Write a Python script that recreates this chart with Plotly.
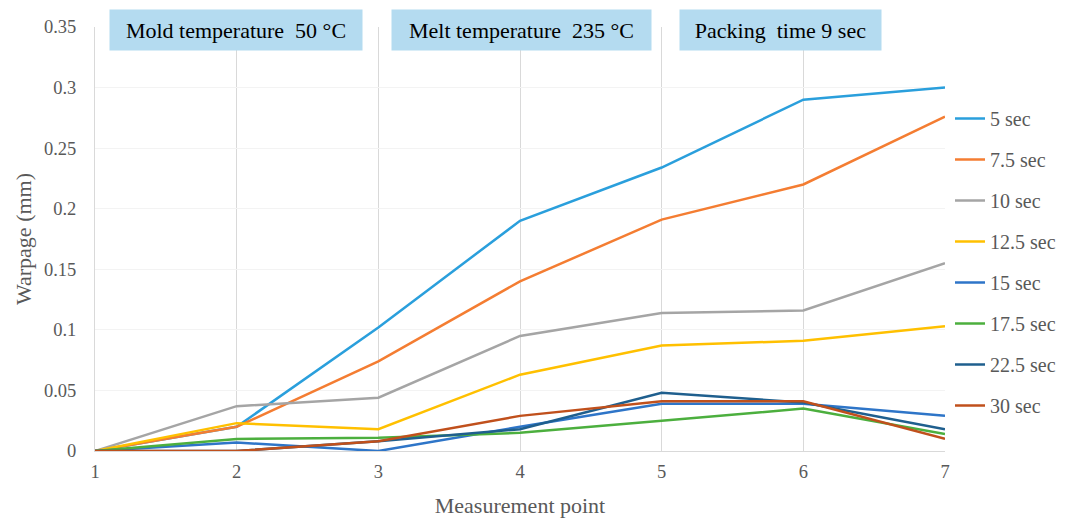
import plotly.graph_objects as go

points = [1, 2, 3, 4, 5, 6, 7]
series_names = ["5 sec", "7.5 sec", "10 sec", "12.5 sec", "15 sec", "17.5 sec", "22.5 sec", "30 sec"]
w_5 = [0, 0.020, 0.102, 0.190, 0.234, 0.290, 0.300]
w_7_5 = [0, 0.020, 0.074, 0.140, 0.191, 0.220, 0.276]
w_10 = [0, 0.037, 0.044, 0.095, 0.114, 0.116, 0.155]
w_12_5 = [0, 0.023, 0.018, 0.063, 0.087, 0.091, 0.103]
w_15 = [0, 0.007, 0.000, 0.020, 0.039, 0.039, 0.029]
w_17_5 = [0, 0.010, 0.011, 0.015, 0.025, 0.035, 0.014]
w_22_5 = [0, 0.000, 0.008, 0.018, 0.048, 0.040, 0.018]
w_30 = [0, 0.000, 0.008, 0.029, 0.041, 0.041, 0.010]
series_values = [w_5, w_7_5, w_10, w_12_5, w_15, w_17_5, w_22_5, w_30]
colors = ["#2A9FDC", "#F47D32", "#A5A5A5", "#FFC000", "#2E75C8", "#4CAF3E", "#1F5F8E", "#C0501C"]

y_ticks = [0, 0.05, 0.1, 0.15, 0.2, 0.25, 0.3, 0.35]
y_ticktext = ["0", "0.05", "0.1", "0.15", "0.2", "0.25", "0.3", "0.35"]
x_ticktext = ["1", "2", "3", "4", "5", "6", "7"]

annotations_text = ["Mold temperature  50 \u00b0C", "Melt temperature  235 \u00b0C", "Packing  time 9 sec"]

FONT = "Liberation Serif, Times New Roman, serif"
GREY = "#595959"

fig = go.Figure()
for name, vals, c in zip(series_names, series_values, colors):
    fig.add_trace(go.Scatter(x=points, y=vals, name=name, mode="lines",
                             line=dict(color=c, width=2.5), legendgroup=name))

OFF = 8  # page body margin
W, H = 1073 - OFF, 518 - OFF
L, R, T, B = 95, 945, 27, 451  # page pixel coordinates of plot area
pw, ph = R - L, B - T

def px_x(p):
    return (p - L) / pw

def px_y(p):
    return (B - p) / ph

boxes = [(110, 362), (392, 651), (680, 881)]
for txt, (x0, x1) in zip(annotations_text, boxes):
    fig.add_annotation(text=txt, xref="paper", yref="paper",
                       x=px_x((x0 + x1) / 2), y=px_y(30), xanchor="center", yanchor="middle",
                       showarrow=False, width=x1 - x0, height=40, borderpad=0,
                       bgcolor="#B4DBF0", font=dict(family=FONT, size=22, color="#000000"))

fig.update_layout(
    width=W, height=H,
    margin=dict(l=L - OFF, r=1073 - R, t=T - OFF, b=518 - B, pad=0, autoexpand=False),
    plot_bgcolor="white", paper_bgcolor="white",
    font=dict(family=FONT, size=18, color=GREY),
    showlegend=True,
    legend=dict(x=px_x(950), xanchor="left", y=px_y(99), yanchor="top",
                traceorder="grouped", tracegroupgap=12,
                font=dict(family=FONT, size=20, color=GREY),
                itemwidth=30, bgcolor="rgba(0,0,0,0)"),
)
fig.update_xaxes(range=[1, 7], tickvals=points, ticktext=x_ticktext, automargin=False,
                 showgrid=True, gridcolor="#D9D9D9", gridwidth=1,
                 showline=True, linecolor="#D9D9D9", linewidth=1,
                 zeroline=False, ticks="", ticklen=0, ticklabelstandoff=4,
                 tickfont=dict(family=FONT, size=18.5, color=GREY),
                 title=dict(text="Measurement point", standoff=18,
                            font=dict(family=FONT, size=22, color=GREY)))
fig.update_yaxes(range=[0, 0.35], tickvals=y_ticks, ticktext=y_ticktext, automargin=False,
                 showgrid=True, gridcolor="#F3F3F3", gridwidth=1,
                 showline=True, linecolor="#D9D9D9", linewidth=1,
                 zeroline=False, ticks="", ticklen=0, ticklabelstandoff=14,
                 tickfont=dict(family=FONT, size=18.5, color=GREY),
                 title=dict(text="Warpage (mm)", standoff=6,
                            font=dict(family=FONT, size=22, color=GREY)))

fig.write_html("out.html")
